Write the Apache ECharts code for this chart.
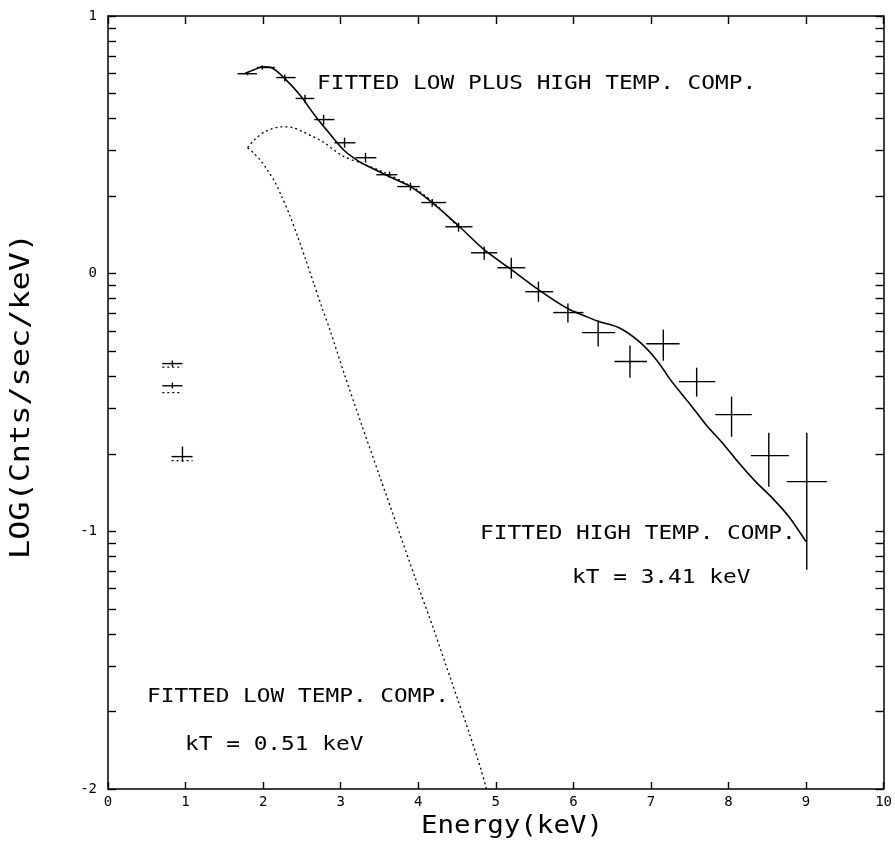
<!DOCTYPE html>
<html>
<head>
<meta charset="utf-8">
<script src="https://cdn.jsdelivr.net/npm/echarts@6/dist/echarts.min.js"></script>
<style>html,body{margin:0;padding:0;background:#fff;}#c{width:895px;height:847px;}</style>
</head>
<body>
<div id="c"></div>
<script>
// ---- data ----
var ptE    = [1.80,1.99,2.28,2.54,2.78,3.05,3.32,3.63,3.90,4.18,4.52,4.85,5.20,5.55,5.93,6.32,6.73,7.16,7.59,8.04,8.52,9.01];
var ptLog  = [0.776,0.800,0.761,0.680,0.598,0.508,0.450,0.384,0.338,0.276,0.182,0.081,0.023,-0.070,-0.151,-0.229,-0.341,-0.272,-0.419,-0.547,-0.706,-0.807];
var ptELo  = [1.67,1.92,2.17,2.42,2.66,2.92,3.19,3.46,3.73,4.04,4.35,4.68,5.02,5.38,5.74,6.11,6.53,6.94,7.36,7.83,8.29,8.75];
var ptEHi  = [1.92,2.15,2.42,2.66,2.92,3.19,3.46,3.73,4.02,4.36,4.70,5.02,5.38,5.74,6.13,6.54,6.95,7.37,7.83,8.30,8.78,9.27];
var ptLogLo= [0.770,0.792,0.746,0.663,0.578,0.489,0.431,0.372,0.322,0.260,0.163,0.054,-0.019,-0.109,-0.190,-0.283,-0.404,-0.338,-0.477,-0.633,-0.827,-1.149];
var ptLogHi= [0.782,0.808,0.773,0.694,0.617,0.528,0.469,0.396,0.353,0.290,0.198,0.105,0.062,-0.031,-0.116,-0.182,-0.279,-0.217,-0.365,-0.477,-0.617,-0.617];

var lowE     = [0.83,0.83,0.96];
var lowLog   = [-0.349,-0.435,-0.710];
var lowELo   = [0.70,0.70,0.82];
var lowEHi   = [0.96,0.96,1.09];
var lowLogLo = [-0.361,-0.446,-0.730];
var lowLogHi = [-0.337,-0.423,-0.671];
var lowModel = [-0.355,-0.454,-0.718];

var totE   = [1.76,1.89,1.99,2.11,2.28,2.47,2.66,2.86,3.05,3.24,3.44,3.63,3.90,4.18,4.52,4.85,5.20,5.55,5.74,5.93,6.14,6.33,6.59,6.85,7.07,7.27,7.49,7.71,7.92,8.13,8.35,8.56,8.78,9.00];
var totLog = [0.776,0.792,0.803,0.799,0.757,0.695,0.617,0.543,0.477,0.435,0.404,0.376,0.338,0.276,0.186,0.093,0.016,-0.062,-0.101,-0.136,-0.163,-0.186,-0.210,-0.264,-0.334,-0.419,-0.501,-0.586,-0.656,-0.733,-0.807,-0.869,-0.943,-1.040];

var highE   = [1.80,1.89,2.02,2.24,2.38,2.51,2.64,2.77,3.02,3.28,3.54,3.80,4.02,4.27,4.52];
var highLog = [0.489,0.520,0.551,0.570,0.567,0.551,0.532,0.512,0.458,0.427,0.396,0.357,0.318,0.256,0.178];

var lowCE   = [1.80,1.87,1.96,2.05,2.15,2.24,2.34,2.45,2.55,2.65,2.75,2.86,3.05,3.27,3.50,3.73,3.96,4.20,4.43,4.66,4.81,4.88];
var lowCLog = [0.489,0.470,0.442,0.404,0.357,0.299,0.229,0.140,0.054,-0.035,-0.124,-0.217,-0.392,-0.586,-0.784,-0.982,-1.180,-1.381,-1.583,-1.785,-1.925,-2.0];

var xTicks = [0,1,2,3,4,5,6,7,8,9,10];
var yTicks = [-2,-1,0,1];
var mantissas = [1,2,3,4,5,6,7,8,9];

// ---- build ----
var logTicks = [];
for (var d = -2; d < 1; d++) {
  for (var m = 0; m < mantissas.length; m++) logTicks.push(+(d + Math.log10(mantissas[m])).toFixed(5));
}
logTicks.push(1);

function zip() {
  var arrs = arguments, out = [];
  for (var i = 0; i < arrs[0].length; i++) {
    var row = [];
    for (var k = 0; k < arrs.length; k++) row.push(arrs[k][i]);
    out.push(row);
  }
  return out;
}

var ink = '#000';
var FONT = '"DejaVu Sans Mono", "Liberation Mono", monospace';

function crossRender(params, api) {
  var x = api.value(0), y = api.value(1);
  var a = api.coord([api.value(2), y]), b = api.coord([api.value(3), y]);
  var c = api.coord([x, api.value(4)]), e = api.coord([x, api.value(5)]);
  return {
    type: 'group',
    children: [
      {type: 'line', shape: {x1: a[0], y1: a[1], x2: b[0], y2: b[1]}, style: {stroke: ink, lineWidth: 1.4}},
      {type: 'line', shape: {x1: c[0], y1: c[1], x2: e[0], y2: e[1]}, style: {stroke: ink, lineWidth: 1.4}}
    ]
  };
}
function modelRender(params, api) {
  var y = api.value(2);
  var a = api.coord([api.value(0), y]), b = api.coord([api.value(1), y]);
  return {type: 'line', shape: {x1: a[0], y1: a[1] + 2, x2: b[0], y2: b[1] + 2},
    style: {stroke: ink, lineWidth: 1.3, lineDash: [2, 3]}};
}

var axisCommon = {
  type: 'value',
  axisLine: {show: true, onZero: false, lineStyle: {color: ink, width: 1.5}},
  splitLine: {show: false}
};

var chart = echarts.init(document.getElementById('c'), null, {renderer: 'canvas'});
chart.setOption({
  backgroundColor: '#fff',
  animation: false,
  grid: {left: 108, right: 11, top: 16, bottom: 58, containLabel: false},
  xAxis: [
    Object.assign({}, axisCommon, {
      position: 'bottom', min: 0, max: 10, interval: 1,
      axisTick: {show: true, inside: true, length: 7, lineStyle: {color: ink, width: 1.4}},
      axisLabel: {show: true, margin: 6, color: ink, fontFamily: FONT, fontSize: 14,
        customValues: xTicks}
    }),
    Object.assign({}, axisCommon, {
      position: 'top', min: 0, max: 10, interval: 1,
      axisTick: {show: true, inside: true, length: 8, lineStyle: {color: ink, width: 1.4}},
      axisLabel: {show: false}
    })
  ],
  yAxis: [
    Object.assign({}, axisCommon, {
      position: 'left', min: -2, max: 1, interval: 1,
      axisTick: {show: true, inside: true, length: 8, lineStyle: {color: ink, width: 1.4},
        customValues: logTicks},
      axisLabel: {show: true, margin: 11, color: ink, fontFamily: FONT, fontSize: 14,
        customValues: yTicks}
    }),
    Object.assign({}, axisCommon, {
      position: 'right', min: -2, max: 1, interval: 1,
      axisTick: {show: true, inside: true, length: 8, lineStyle: {color: ink, width: 1.4},
        customValues: logTicks},
      axisLabel: {show: false}
    })
  ],
  series: [
    {type: 'line', name: 'low', data: zip(lowCE, lowCLog), showSymbol: false, smooth: 0.3,
      lineStyle: {color: ink, width: 1.3, type: [2, 3]}, z: 2},
    {type: 'line', name: 'high', data: zip(highE, highLog), showSymbol: false, smooth: 0.3,
      lineStyle: {color: ink, width: 1.3, type: [2, 3]}, z: 2},
    {type: 'line', name: 'total', data: zip(totE, totLog), showSymbol: false, smooth: 0.3,
      lineStyle: {color: ink, width: 1.6}, z: 3},
    {type: 'custom', name: 'points', renderItem: crossRender,
      data: zip(ptE, ptLog, ptELo, ptEHi, ptLogLo, ptLogHi), z: 4},
    {type: 'custom', name: 'lowpoints', renderItem: crossRender,
      data: zip(lowE, lowLog, lowELo, lowEHi, lowLogLo, lowLogHi), z: 4},
    {type: 'custom', name: 'lowmodel', renderItem: modelRender,
      data: zip(lowELo, lowEHi, lowModel), z: 4}
  ],
  graphic: [
    {type: 'text', x: 317, y: 84, scaleX: 1.2, style: {text: 'FITTED LOW PLUS HIGH TEMP. COMP.', font: '19px ' + FONT, fill: ink, verticalAlign: 'middle'}},
    {type: 'text', x: 480, y: 534, scaleX: 1.2, style: {text: 'FITTED HIGH TEMP. COMP.', font: '19px ' + FONT, fill: ink, verticalAlign: 'middle'}},
    {type: 'text', x: 572, y: 578, scaleX: 1.2, style: {text: 'kT = 3.41 keV', font: '19px ' + FONT, fill: ink, verticalAlign: 'middle'}},
    {type: 'text', x: 147, y: 697, scaleX: 1.2, style: {text: 'FITTED LOW TEMP. COMP.', font: '19px ' + FONT, fill: ink, verticalAlign: 'middle'}},
    {type: 'text', x: 185, y: 745, scaleX: 1.2, style: {text: 'kT = 0.51 keV', font: '19px ' + FONT, fill: ink, verticalAlign: 'middle'}},
    {type: 'text', x: 512, y: 826, scaleX: 1.1, style: {text: 'Energy(keV)', font: '25px ' + FONT, fill: ink, align: 'center', verticalAlign: 'middle'}},
    {type: 'text', x: 22, y: 396, rotation: Math.PI / 2, scaleX: 1.18, style: {text: 'LOG(Cnts/sec/keV)', font: '27px ' + FONT, fill: ink, align: 'center', verticalAlign: 'middle'}}
  ]
});
</script>
</body>
</html>
